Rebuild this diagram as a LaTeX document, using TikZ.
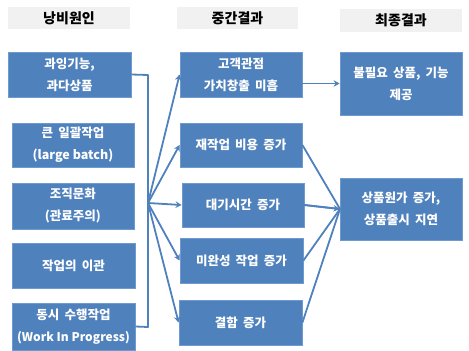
\documentclass[tikz,border=0pt]{standalone}
\usepackage{fontspec}
\setmainfont{Noto Sans CJK KR}[WordSpace=1.8]
\newfontfamily\latinf{Noto Sans CJK KR}
\usetikzlibrary{arrows.meta}
\definecolor{boxblue}{HTML}{4F81BD}
\definecolor{edgeblue}{HTML}{6E9AD0}
\definecolor{hdrgray}{HTML}{F1F1F1}
\begin{document}
\begin{tikzpicture}[x=1pt,y=-1pt,
  hdr/.style={fill=hdrgray,inner sep=0pt,font=\fontsize{14}{16}\selectfont\bfseries,text=black},
  box/.style={fill=boxblue,draw=edgeblue,line width=0.8pt,inner sep=0pt,align=center,text=white,font=\fontsize{12.5}{22}\selectfont\bfseries},
  conn/.style={draw=boxblue,line width=1.8pt},
  arr/.style={conn,-{Stealth[length=6pt,width=6.5pt]}}]
\useasboundingbox (0,0) rectangle (469,351);
% headers
\node[hdr,minimum width=122pt,minimum height=22pt] (h1) at (69,18) {낭비원인};
\node[hdr,minimum width=121pt,minimum height=22pt] (h2) at (237.5,18) {중간결과};
\node[hdr,minimum width=122pt,minimum height=23pt] (h3) at (401,20.5) {최종결과};
% left column
\node[box,minimum width=123pt,minimum height=45pt] (l1) at (69.5,74.5) {과잉기능,\\과다상품};
\node[box,minimum width=122pt,minimum height=44pt] (l2) at (73,145) {큰 일괄작업\\{\latinf\bfseries (large batch)}};
\node[box,minimum width=122pt,minimum height=46pt] (l3) at (73,206) {조직문화\\(관료주의)};
\node[box,minimum width=123pt,minimum height=45pt] (l4) at (73.5,265.5) {작업의 이관};
\node[box,minimum width=123pt,minimum height=47pt] (l5) at (73.5,326.5) {동시 수행작업\\{\latinf\bfseries\fontsize{12}{22}\selectfont (Work In Progress)}};
% middle column
\node[box,minimum width=122pt,minimum height=45pt] (m1) at (241,74.5) {고객관점\\가치창출 미흡};
\node[box,minimum width=122pt,minimum height=44pt] (m2) at (241,145) {재작업 비용 증가};
\node[box,minimum width=122pt,minimum height=44pt] (m3) at (243,205) {대기시간 증가};
\node[box,minimum width=123pt,minimum height=45pt] (m4) at (241.5,260.5) {미완성 작업 증가};
\node[box,minimum width=123pt,minimum height=45pt] (m5) at (240.5,322.5) {결함 증가};
% right column
\node[box,minimum width=122pt,minimum height=63pt] (r1) at (401,83.5) {불필요 상품, 기능\\제공};
\node[box,minimum width=122pt,minimum height=62pt] (r2) at (401,209) {상품원가 증가,\\상품출시 지연};
% bracket and hub
\coordinate (bt) at (148,75);
\coordinate (bb) at (148,327);
\coordinate (hub) at (148,203);
\draw[conn,line join=round] (l1.east) -- (bt) -- (bb) -- (l5.east);
\foreach \m in {m1,m2,m3,m4,m5} \draw[arr] (hub) -- (\m.west);
% middle to right
\draw[arr] (m1.east |- r1.west) -- (r1.west);
\coordinate (conv) at (340,209);
\foreach \m in {m2,m3,m4,m5} \draw[conn] (\m.east) -- (conv);
\draw[arr] (m3.east) -- (r2.west);
\end{tikzpicture}
\end{document}
